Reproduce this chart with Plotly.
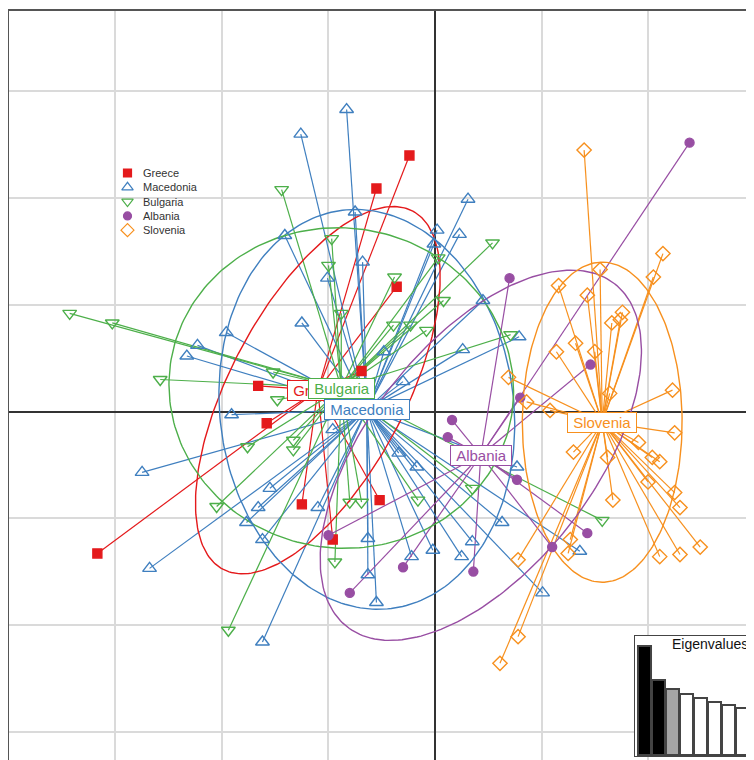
import numpy as np
import plotly.graph_objects as go

# ---------------- data ----------------
groups = ["Greece", "Macedonia", "Bulgaria", "Albania", "Slovenia"]

greece_x = [-3.17, -0.24, -0.55, -0.36, -1.66, -1.58, -1.25, -0.96, -0.52, -0.69]
greece_y = [-1.33, 2.40, 2.09, 1.17, 0.24, -0.11, -0.87, -1.20, -0.83, 0.38]

macedonia_x = [-0.83, -1.26, -1.41, -0.75, -0.68, -1.01, -1.25, -1.96, -2.23, -2.33,
               0.31, 0.23, 0.02, 0.45, 0.26, 0.79, -0.48, -0.30, -1.91, -0.96,
               -2.75, -1.55, -1.66, -1.77, -1.62, -1.10, -2.68, -1.62, -0.63, -0.63,
               -0.55, -0.34, -0.17, -0.22, -0.02, 0.25, 0.35, 0.77, 0.63, 1.01,
               1.36, -0.01]
macedonia_y = [2.83, 2.60, 1.65, 1.87, 1.40, 1.25, 0.83, 0.74, 0.62, 0.52,
               1.99, 1.66, 1.70, 1.04, 0.58, 0.70, 0.56, 0.28, -0.03, -0.17,
               -0.57, -0.72, -0.90, -1.04, -1.20, -0.90, -1.47, -2.16, -1.19, -1.53,
               -1.79, -0.39, -0.52, -1.36, -1.30, -1.36, -1.22, -0.52, -1.04, -1.70,
               -1.31, 1.57]

bulgaria_x = [-3.43, -3.03, -1.44, -0.97, -1.00, -0.38, 0.54, 0.03, -0.39, -0.23,
              -0.08, 0.08, 0.71, -0.88, -2.58, -1.52, -1.48, -1.76, -1.33, -1.33,
              -2.05, -1.94, -0.94, -0.80, -0.69, -0.16, 0.35, 1.57]
bulgaria_y = [0.92, 0.83, 2.08, 1.62, 1.37, 1.26, 1.58, 1.44, 0.81, 0.81,
              0.76, 1.04, 0.72, 0.92, 0.30, 0.37, 0.11, -0.33, -0.27, -0.36,
              -0.89, -2.05, -1.41, -0.85, -0.85, -0.83, -0.72, -1.02]

albania_x = [2.39, 0.70, 1.46, 0.80, 0.16, 0.12, 0.77, 1.43, 1.10, 0.36, -0.30, -0.80, -1.00]
albania_y = [2.52, 1.25, 0.44, 0.13, -0.08, -0.24, -0.64, -1.14, -1.27, -1.50, -1.46, -1.70, -1.16]

slovenia_x = [1.40, 2.14, 2.05, 1.55, 1.16, 1.43, 1.76, 1.74, 1.66, 1.32,
              1.14, 1.50, 0.69, 1.64, 0.86, 1.08, 2.23, 2.25, 1.91, 2.04,
              2.11, 1.62, 1.30, 2.00, 1.67, 2.25, 2.30, 2.49, 2.30, 2.11,
              1.25, 1.27, 0.78, 0.78, 0.61]
slovenia_y = [2.45, 1.48, 1.26, 1.33, 1.18, 1.09, 0.93, 0.86, 0.83, 0.64,
              0.56, 0.56, 0.32, 0.17, 0.09, 0.01, 0.20, -0.20, -0.29, -0.43,
              -0.47, -0.43, -0.38, -0.66, -0.83, -0.76, -0.90, -1.27, -1.34, -1.36,
              -1.33, -1.20, -1.39, -2.11, -2.36]

# group centroids (label positions)
centroid_x = [-1.10, -0.64, -0.88, 0.43, 1.57]
centroid_y = [0.20, 0.02, 0.22, -0.41, -0.10]

# inertia ellipses: semi-axes and orientation (degrees)
ellipse_a = [1.90, 1.88, 1.62, 2.04, 1.50]
ellipse_b = [0.82, 1.38, 1.50, 1.06, 0.75]
ellipse_angle = [62, 97, -8, 52, 90]

# eigenvalue inset
eigenvalues = [10.9, 7.5, 6.6, 6.1, 5.7, 5.3, 5.0, 4.7]
eig_colors = ["#000000", "#000000", "#a6a6a6", "#ffffff", "#ffffff", "#ffffff", "#ffffff", "#ffffff"]

# ---------------- styles ----------------
colors = ["#E41A1C", "#3F7FBF", "#4DAF4A", "#984EA3", "#F7901E"]
symbols = ["square", "triangle-up-open", "triangle-down-open", "circle", "diamond-open"]
msizes = [9, 12, 12, 9, 11]
leg_sizes = [8, 10, 10, 8, 10]
FONT = "Liberation Sans, Arial, Helvetica, sans-serif"

xs = [greece_x, macedonia_x, bulgaria_x, albania_x, slovenia_x]
ys = [greece_y, macedonia_y, bulgaria_y, albania_y, slovenia_y]

XR = [-4.009, 2.995]
YR = [-3.266, 3.763]

fig = go.Figure()

# stars (centroid -> individuals)
for g in range(len(groups)):
    lx, ly = [], []
    for px, py in zip(xs[g], ys[g]):
        lx += [centroid_x[g], px, None]
        ly += [centroid_y[g], py, None]
    fig.add_trace(go.Scatter(x=lx, y=ly, mode="lines",
                             line=dict(color=colors[g], width=1.2),
                             hoverinfo="skip", showlegend=False))
# ellipses
for g in range(len(groups)):
    t = np.linspace(0, 2 * np.pi, 241)
    th = np.deg2rad(ellipse_angle[g])
    ex = centroid_x[g] + ellipse_a[g] * np.cos(t) * np.cos(th) - ellipse_b[g] * np.sin(t) * np.sin(th)
    ey = centroid_y[g] + ellipse_a[g] * np.cos(t) * np.sin(th) + ellipse_b[g] * np.sin(t) * np.cos(th)
    fig.add_trace(go.Scatter(x=ex, y=ey, mode="lines",
                             line=dict(color=colors[g], width=1.4),
                             hoverinfo="skip", showlegend=False))

# points
for g in range(len(groups)):
    fig.add_trace(go.Scatter(x=xs[g], y=ys[g], mode="markers", name=groups[g],
                             marker=dict(symbol=symbols[g], size=msizes[g], color=colors[g],
                                         line=dict(color=colors[g], width=1.4)),
                             showlegend=False))

# ---------------- eigenvalue inset (x2/y2) ----------------
EX = [0.25, 8.821]
EY = [-0.2, 12.0]
fig.add_trace(go.Bar(x=[(EX[0] + EX[1]) / 2], y=[EY[1] - EY[0]], base=EY[0],
                     width=EX[1] - EX[0],
                     marker=dict(color="white", line=dict(color="#444444", width=2)),
                     xaxis="x2", yaxis="y2", hoverinfo="skip", showlegend=False))
fig.add_trace(go.Bar(x=list(range(1, len(eigenvalues) + 1)), y=eigenvalues,
                     width=0.93, marker=dict(color=eig_colors, line=dict(color="#444444", width=2)),
                     xaxis="x2", yaxis="y2", hoverinfo="skip", showlegend=False))

# ---------------- custom legend (pixel overlay axes) ----------------
leg_x = 127.5
leg_text_x = 141
leg_y0 = 173
leg_dy = 14.3
for g in range(len(groups)):
    fig.add_trace(go.Scatter(x=[leg_x], y=[leg_y0 + g * leg_dy], mode="markers",
                             marker=dict(symbol=symbols[g], size=leg_sizes[g], color=colors[g],
                                         line=dict(color=colors[g], width=1.2)),
                             xaxis="x3", yaxis="y3", hoverinfo="skip", showlegend=False))

annotations = []
for g in range(len(groups)):
    annotations.append(dict(x=leg_text_x, y=leg_y0 + g * leg_dy, xref="x3", yref="y3",
                            text=groups[g], showarrow=False, xanchor="left", yanchor="middle",
                            font=dict(family=FONT, size=11, color="#333333")))
# group labels
for g in range(len(groups)):
    annotations.append(dict(x=centroid_x[g], y=centroid_y[g], xref="x", yref="y",
                            text="\u00a0" + groups[g] + "\u00a0", showarrow=False,
                            xanchor="center", yanchor="middle",
                            font=dict(family=FONT, size=15, color=colors[g]),
                            bgcolor="white", bordercolor=colors[g], borderwidth=1, borderpad=1))
annotations.append(dict(x=(750 - 8) / 746, y=(760 - 644) / 750, xref="paper", yref="paper",
                        text="Eigenvalues", showarrow=False, xanchor="right", yanchor="middle",
                        font=dict(family=FONT, size=14, color="#111111")))

grid = "#dadada"
fig.update_layout(
    width=746, height=752,
    margin=dict(l=0, r=0, t=2, b=0, pad=0),
    paper_bgcolor="white", plot_bgcolor="rgba(0,0,0,0)",
    showlegend=False, barmode="overlay",
    xaxis=dict(range=XR, tickvals=[-3, -2, -1, 1, 2], showticklabels=False, ticks="",
               showgrid=True, gridcolor=grid, gridwidth=1.5,
               zeroline=True, zerolinecolor="#333333", zerolinewidth=1.6, showline=False),
    yaxis=dict(range=YR, tickvals=[-3, -2, -1, 1, 2, 3], showticklabels=False, ticks="",
               showgrid=True, gridcolor=grid, gridwidth=1.5,
               zeroline=True, zerolinecolor="#333333", zerolinewidth=1.6, showline=False),
    xaxis2=dict(domain=[(634 - 8) / 746, 1.0], range=EX, anchor="y2", visible=False),
    yaxis2=dict(domain=[(760 - 757) / 750, (760 - 635) / 750], range=EY, anchor="x2", visible=False),
    xaxis3=dict(range=[8, 754], overlaying="x", anchor="y3", visible=False),
    yaxis3=dict(range=[760, 10], overlaying="y", anchor="x3", visible=False),
    annotations=annotations,
    shapes=[
        dict(type="line", xref="paper", yref="paper", x0=0, x1=1, y0=1, y1=1,
             line=dict(color="#555555", width=2)),
        dict(type="line", xref="paper", yref="paper", x0=0, x1=0, y0=0, y1=1,
             line=dict(color="#555555", width=2)),
    ],
)

fig.write_html("out.html")
